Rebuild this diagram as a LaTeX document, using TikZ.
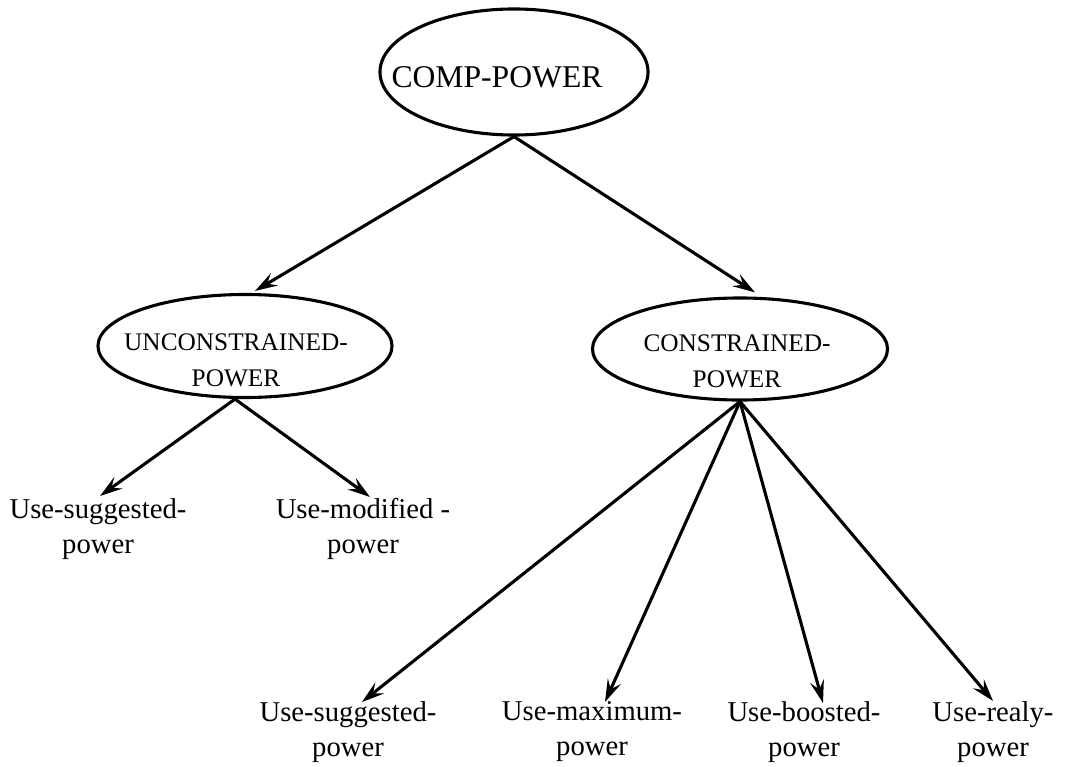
\documentclass[tikz,border=0pt]{standalone}
\usepackage{fontspec}
\setmainfont{Liberation Serif}
\usetikzlibrary{shapes.geometric,arrows.meta,calc}
\begin{document}
\begin{tikzpicture}[x=0.025cm,y=-0.025cm,
  oval/.style={draw,ellipse,line width=2.2pt,inner sep=0pt},
  link/.style={line width=2.2pt,-{Stealth[length=16pt,width=10pt,inset=6pt]}},
  leaf/.style={font=\fontsize{20.4}{25}\selectfont,align=center,inner sep=0pt,anchor=north},
  midtxt/.style={font=\fontsize{18}{25.6}\selectfont,align=center,inner sep=0pt,anchor=north},
  toptxt/.style={font=\fontsize{22.5}{27}\selectfont,inner sep=0pt,anchor=north}]
\useasboundingbox (0,0) rectangle (1083,767);

% root concept
\node[oval,minimum width=6.7cm,minimum height=3.15cm] (top) at (514,72) {};
\node[toptxt] (toplbl) at (497,66) {COMP-POWER};

% second level
\node[oval,minimum width=7.35cm,minimum height=2.575cm] (unc) at (245,346) {};
\node[midtxt] (unclbl) at (236,333) {UNCONSTRAINED-\\POWER};
\node[oval,minimum width=7.375cm,minimum height=2.55cm] (con) at (740,349) {};
\node[midtxt] (conlbl) at (737,334) {CONSTRAINED-\\POWER};

% leaves under the unconstrained branch
\node[leaf] (l1) at (98,498) {Use-suggested-\\power};
\node[leaf] (l2) at (363,498) {Use-modified -\\power};

% leaves under the constrained branch
\node[leaf] (b1) at (348,701) {Use-suggested-\\power};
\node[leaf] (b2) at (592,701) {Use-maximum-\\power};
\node[leaf] (b3) at (804,701) {Use-boosted-\\power};
\node[leaf] (b4) at (993,701) {Use-realy-\\power};

% connectors
\draw[link] (top.south) -- ($(unc.north)+(10,-2)$);
\draw[link] (top.south) -- ($(con.north)+(15,-4)$);

\coordinate (uncfoot) at ($(unc.south)+(-10,0)$);
\draw[link] (uncfoot) -- ($(l1.north)+(2,-2)$);
\draw[link] (uncfoot) -- ($(l2.north)+(7,-1)$);

\draw[link] (con.south) -- ($(b1.north)+(14,1)$);
\draw[link] (con.south) -- ($(b2.north)+(13,1)$);
\draw[link] (con.south) -- ($(b3.north)+(19,2)$);
\draw[link] (con.south) -- (b4.north);
\end{tikzpicture}
\end{document}
